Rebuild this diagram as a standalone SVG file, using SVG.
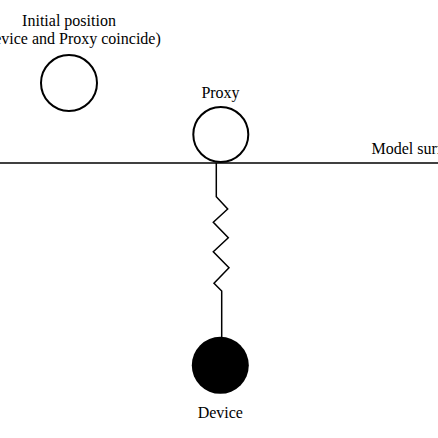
<svg xmlns="http://www.w3.org/2000/svg" width="438" height="438" viewBox="0 0 438 438">
<style>
text{font-family:"Liberation Serif","Times New Roman",serif;font-size:16px;fill:#000}
.c{fill:#fff;stroke:#000;stroke-width:2}
.l{fill:none;stroke:#000;stroke-width:1.5}
</style>
<rect width="438" height="438" fill="#fff"/>
<g id="surface">
<line class="l" x1="0" y1="163" x2="438" y2="163"/>
<text x="371.5" y="154">Model surface</text>
</g>
<g id="connectors">
<polyline class="l" points="216.3,163 216.3,196.7 227.7,209 213.3,222.3 228.3,237.7 213.3,251.7 229,267.7 214,283.3 221.7,291 221.7,337"/>
</g>
<g id="initial">
<circle class="c" cx="69" cy="83" r="28"/>
<text x="69" y="26" text-anchor="middle">Initial position</text>
<text x="69" y="43.5" text-anchor="middle">(Device and Proxy coincide)</text>
</g>
<g id="proxy">
<circle class="c" cx="220.8" cy="134.5" r="27.5"/>
<text x="220.5" y="97.5" text-anchor="middle">Proxy</text>
</g>
<g id="device">
<circle cx="220.3" cy="365.3" r="28.5" fill="#000"/>
<text x="220.3" y="417.5" text-anchor="middle">Device</text>
</g>
</svg>
